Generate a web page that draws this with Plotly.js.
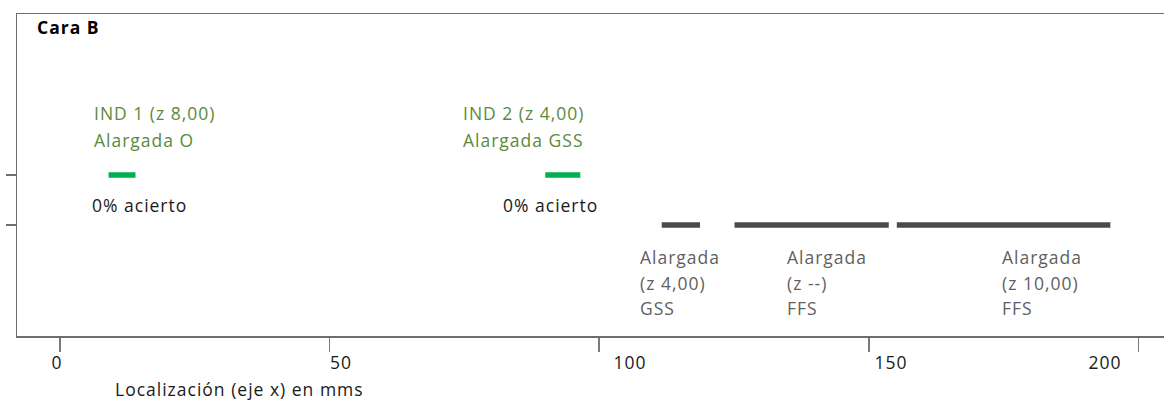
<!DOCTYPE html>
<html>
<head>
<meta charset="utf-8">
<script src="https://cdn.plot.ly/plotly-3.0.1.min.js"></script>
<style>html,body{margin:0;padding:0;background:#fff;}#chart{width:1164px;height:401px;}
#chart text{letter-spacing:1px;}</style>
</head>
<body>
<div id="chart"></div>
<script>
// ---- data ----
const titleText = "Cara B";
const xAxisTitle = "Localización (eje x) en mms";
const tickVals = [0, 50, 100, 150, 200];
const tickLabels = ["0", "50", "100", "150", "200"];

// indications (green) at level 2
const indNames = ["IND 1 (z 8,00)", "IND 2 (z 4,00)"];
const indTypes = ["Alargada O", "Alargada GSS"];
const indHits = ["0% acierto", "0% acierto"];
const indStart = [9, 90];
const indEnd = [14, 96.5];
const indLevel = 2;

// reference flaws (gray) at level 1
const segType = ["Alargada", "Alargada", "Alargada"];
const segZ = ["(z 4,00)", "(z --)", "(z 10,00)"];
const segClass = ["GSS", "FFS", "FFS"];
const segStart = [111.6, 125.1, 155.2];
const segEnd = [118.7, 153.7, 194.8];
const segLevel = 1;

// ---- layout helpers ----
const FONT = "Open Sans, sans-serif";
const FS = 17.5;
const greenText = "#5a8a3c";
const grayText = "#5f5f5f";
const traces = [];

indStart.forEach((s, i) => {
  traces.push({
    x: [s, indEnd[i]], y: [indLevel, indLevel],
    mode: "lines", type: "scatter", hoverinfo: "skip", showlegend: false,
    line: {color: "#00b050", width: 5.5}
  });
});
segStart.forEach((s, i) => {
  traces.push({
    x: [s, segEnd[i]], y: [segLevel, segLevel],
    mode: "lines", type: "scatter", hoverinfo: "skip", showlegend: false,
    line: {color: "#4a4a4a", width: 5.5}
  });
});

const ann = [];
function addText(text, x, y, color, xref, yref) {
  ann.push({text: text, x: x, y: y, xref: xref || "x", yref: yref || "y",
    xanchor: "left", yanchor: "middle", align: "left", showarrow: false,
    font: {family: FONT, size: FS, color: color}});
}
// label placement (layout, tuned in data units)
const indLabelX = [5.95, 74.35];
const hitLabelX = [5.6, 81.8];
indNames.forEach((t, i) => {
  addText(t, indLabelX[i], 3.24, greenText);
  addText(indTypes[i], indLabelX[i], 2.70, greenText);
  addText(indHits[i], hitLabelX[i], 1.40, "#1a1a1a");
});
const segLabelX = [107.2, 134.4, 174.4];
segType.forEach((t, i) => {
  addText(t, segLabelX[i], 0.36, grayText);
  addText(segZ[i], segLabelX[i], -0.16, grayText);
  addText(segClass[i], segLabelX[i], -0.66, grayText);
});
// tick labels (offset as in reference)
const tickLabelX = [-0.6, 52.1, 105.7, 154.1, 193.8];
tickLabels.forEach((t, i) => {
  ann.push({text: t, x: tickLabelX[i], y: -0.08, xref: "x", yref: "paper",
    xanchor: "center", yanchor: "middle", showarrow: false,
    font: {family: FONT, size: FS, color: "#1a1a1a"}});
});
// axis title
addText(xAxisTitle, 9.8, -0.165, "#1a1a1a", "x", "paper");

const layout = {
  width: 1164, height: 401,
  margin: {l: 17, r: 0, t: 14, b: 65, pad: 0},
  paper_bgcolor: "#fff", plot_bgcolor: "#fff",
  title: {text: "<b>" + titleText + "</b>", x: 20/1147, xref: "paper", xanchor: "left",
    y: 1 - 28/401, yref: "container", yanchor: "middle",
    font: {family: FONT, size: FS, color: "#000"}},
  xaxis: {range: [-7.975, 204.75], showgrid: false, zeroline: false,
    showline: true, linecolor: "#6e6e6e", linewidth: 1.5, mirror: true,
    tickmode: "array", tickvals: tickVals, showticklabels: false,
    ticks: "outside", ticklen: 14, tickwidth: 1.5, tickcolor: "#7a7a7a", fixedrange: true},
  yaxis: {range: [-1.22, 5.22], showgrid: false, zeroline: false,
    showline: true, linecolor: "#6e6e6e", linewidth: 1.5,
    tickmode: "array", tickvals: [segLevel, indLevel], showticklabels: false,
    ticks: "outside", ticklen: 10, tickwidth: 1.5, tickcolor: "#6e6e6e", fixedrange: true},
  annotations: ann,
  showlegend: false
};
Plotly.newPlot("chart", traces, layout, {displayModeBar: false, staticPlot: true});
</script>
</body>
</html>
